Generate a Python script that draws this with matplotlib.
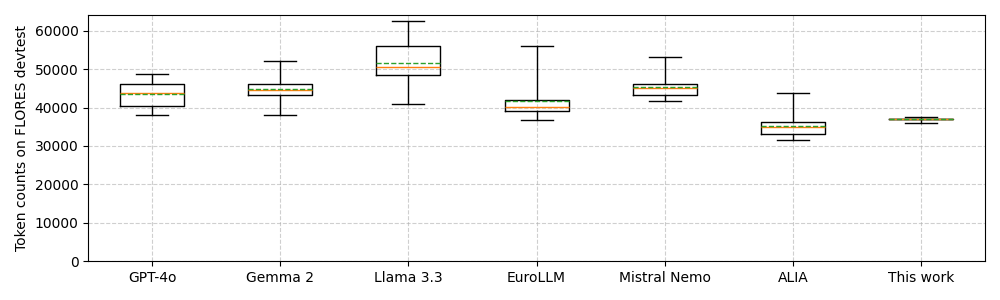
import matplotlib
matplotlib.use("Agg")
import matplotlib.pyplot as plt

# token counts per model on FLORES devtest
models = ["GPT-4o", "Gemma 2", "Llama 3.3", "EuroLLM", "Mistral Nemo", "ALIA", "This work"]
whislo = [38000, 38000, 40880, 36700, 41660, 31490, 35920]
q1 = [40350, 43230, 48350, 39050, 43230, 33050, 36920]
med = [43750, 44530, 50440, 40100, 44960, 34880, 36980]
mean = [43500, 44800, 51580, 41660, 45400, 35150, 36990]
q3 = [46100, 46100, 56000, 41920, 46100, 36190, 37050]
whishi = [48700, 52100, 62530, 56000, 53140, 43750, 37490]

stats = []
for i, name in enumerate(models):
    stats.append({
        "label": name,
        "whislo": whislo[i],
        "q1": q1[i],
        "med": med[i],
        "mean": mean[i],
        "q3": q3[i],
        "whishi": whishi[i],
        "fliers": [],
    })

fig, ax = plt.subplots(figsize=(10, 3))
ax.bxp(stats, showmeans=True, meanline=True, widths=0.5)
ax.set_ylim(bottom=0)
ax.set_ylabel("Token counts on FLORES devtest")
ax.grid(True, linestyle="--", alpha=0.6)
plt.tight_layout()
plt.savefig("out.png")
